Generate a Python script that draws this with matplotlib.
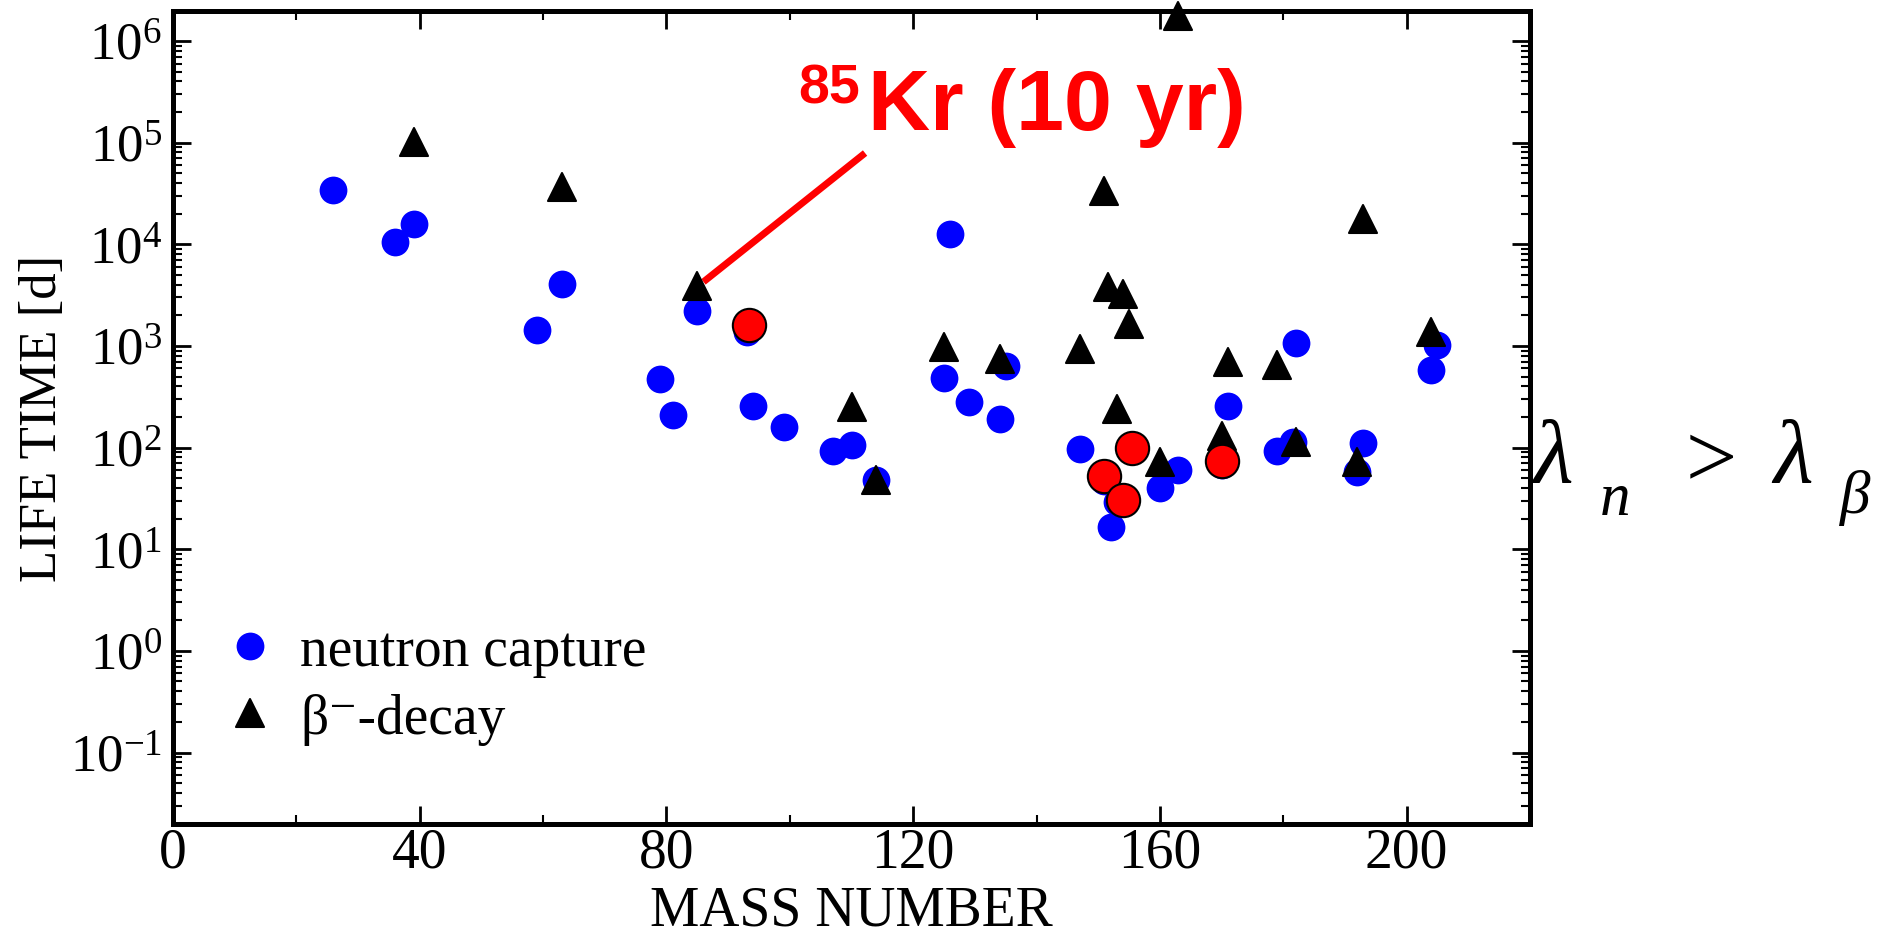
import numpy as np
import matplotlib
matplotlib.use('Agg')
import matplotlib.pyplot as plt
from matplotlib.lines import Line2D
from matplotlib.markers import MarkerStyle
from matplotlib.ticker import (MultipleLocator, LogLocator, NullFormatter, FixedLocator,
                               LogFormatterMathtext)

# ---------------- data ----------------
nc_mass = [26, 36, 39, 59, 63, 79, 81, 85, 93, 94, 99, 107, 110, 114, 125, 126, 129,
           134, 135, 147, 151, 153, 152, 160, 163, 170, 171, 179, 182, 181.5, 193, 192,
           205, 204]
nc_life = [3.43e4, 1.05e4, 1.58e4, 1.44e3, 4.08e3, 474, 207, 2230, 1380, 259, 160, 93.6,
           107, 48, 485, 1.26e4, 284, 189, 637, 97, 47, 29, 16.6, 40, 60, 67, 259, 93.6,
           1070, 114, 111, 58, 1010, 582]

bd_mass = [39, 63, 85, 110, 114, 125, 134, 147, 151, 151.6, 154, 155, 153, 160, 163, 170,
           171, 179, 182, 192, 193, 204]
bd_life = [1.02e5, 3.66e4, 3.9e3, 252, 48, 980, 746, 937, 3.35e4, 3.81e3, 3.25e3, 1.65e3,
           238, 72, 1.76e6, 131, 698, 652, 114, 72, 1.79e4, 1380]

hl_mass = [93.4, 151, 154, 155.5, 170]
hl_life = [1590, 53, 30.7, 99.5, 73]

y_tick_exponents = [-1, 0, 1, 2, 3, 4, 5, 6]
legend_labels = ['neutron capture', 'β⁻-decay']
x_label = 'MASS NUMBER'
y_label = 'LIFE TIME [d]'
kr_super = '85'
kr_text = 'Kr (10 yr)'

# annotation anchor (85Kr point) and label corner, in data units
kr_line_x = [86.0, 112.2]
kr_line_y = [4.27e3, 7.9e4]
kr_super_pos = (101.3, 2.51e5)
kr_text_pos = (112.7, 1.36e5)

# ---------------- style ----------------
plt.rcParams['font.family'] = ['Liberation Serif', 'DejaVu Serif']
plt.rcParams['mathtext.fontset'] = 'custom'
plt.rcParams['mathtext.rm'] = 'Liberation Serif'
plt.rcParams['mathtext.it'] = 'Liberation Serif:italic'
plt.rcParams['mathtext.bf'] = 'Liberation Serif:bold'

W, H = 1892, 937
fig = plt.figure(figsize=(W / 100, H / 100), dpi=100)
ax = fig.add_axes([173 / W, 1 - 825 / H, (1530 - 173) / W, (825 - 12) / H])
ax.set_yscale('log')
ax.set_xlim(0, 220)
ax.set_ylim(10 ** -1.703, 10 ** 6.295)

tri = MarkerStyle('^', joinstyle='round')

ax.plot(kr_line_x, kr_line_y, color='#ff0000', lw=5, solid_capstyle='butt', zorder=3.5)

ax.plot(nc_mass, nc_life, ls='none', marker='o', ms=20, mfc='#0000ff', mec='none',
        clip_on=False, zorder=3)
ax.plot(bd_mass, bd_life, ls='none', marker=tri, ms=20.5, mfc='black', mec='black', mew=1.5,
        clip_on=False, zorder=4)
ax.plot(hl_mass, hl_life, ls='none', marker='o', ms=24, mfc='#ff0000', mec='black', mew=1.5,
        clip_on=False, zorder=5)

ax.text(*kr_super_pos, kr_super, color='#ff0000', fontsize=40, fontweight='bold',
        family='Liberation Sans', va='baseline', ha='left')
ax.text(*kr_text_pos, kr_text, color='#ff0000', fontsize=62, fontweight='bold',
        family='Liberation Sans', va='baseline', ha='left')

# ticks
ax.xaxis.set_major_locator(MultipleLocator(40))
ax.xaxis.set_minor_locator(MultipleLocator(20))
ax.yaxis.set_major_locator(FixedLocator(10.0 ** np.array(y_tick_exponents)))
ax.yaxis.set_major_formatter(LogFormatterMathtext())
ax.yaxis.set_minor_locator(LogLocator(base=10, subs=np.arange(2, 10), numticks=20))
ax.yaxis.set_minor_formatter(NullFormatter())
ax.tick_params(which='both', direction='in', top=True, right=True)
ax.tick_params(which='major', length=13, width=2)
ax.tick_params(which='minor', length=6.5, width=1.5)
ax.tick_params(axis='x', which='major', labelsize=40, pad=2)
ax.tick_params(axis='y', which='major', labelsize=38, pad=8)
for s in ax.spines.values():
    s.set_linewidth(3.6)

ax.set_xlabel(x_label, fontsize=40, labelpad=4)
ax.set_ylabel(y_label, fontsize=38, labelpad=2)

handles = [Line2D([], [], ls='none', marker='o', ms=20, mfc='#0000ff', mec='none'),
           Line2D([], [], ls='none', marker=tri, ms=20.5, mfc='black', mec='black', mew=1.5)]
ax.legend(handles, legend_labels, loc='upper left', bbox_to_anchor=(0.0465, 0.2444),
          frameon=False, fontsize=40, handlelength=0.5, handletextpad=0.65,
          borderpad=0, borderaxespad=0, labelspacing=0.28)

# lambda_n > lambda_beta
def fx(px):
    return px / W

def fy(py):
    return 1 - py / H

main_fs = 66
sub_fs = 44
fig.text(fx(1533), fy(483), 'λ', fontsize=main_fs, style='italic', va='baseline')
fig.text(fx(1600), fy(515), 'n', fontsize=sub_fs, style='italic', va='baseline')
fig.text(fx(1680), fy(487), '>', fontsize=main_fs, style='italic', va='baseline')
fig.text(fx(1773), fy(483), 'λ', fontsize=main_fs, style='italic', va='baseline')
fig.text(fx(1840), fy(513), 'β', fontsize=sub_fs, style='italic', va='baseline')

fig.savefig('out.png', dpi=100)
